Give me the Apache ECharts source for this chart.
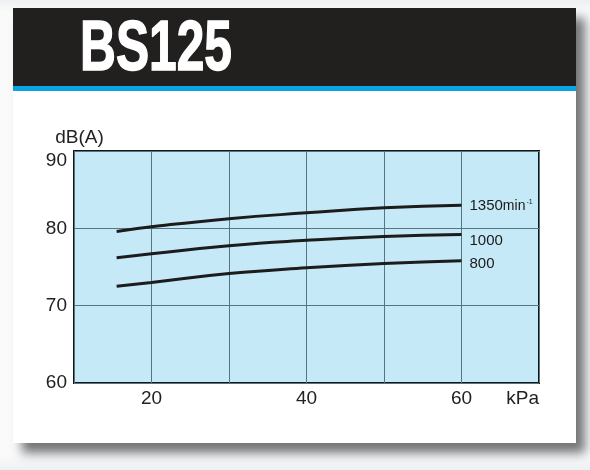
<!DOCTYPE html>
<html>
<head>
<meta charset="utf-8">
<script src="https://cdn.jsdelivr.net/npm/echarts@6/dist/echarts.min.js"></script>
<style>
  html, body { margin:0; padding:0; width:590px; height:470px; overflow:hidden; background:#f3f5f6; }
  #page { position:absolute; left:0; top:0; width:590px; height:470px; background:linear-gradient(#eef0f1 0, #fafafa 12px, #fafafa 455px, #eef1f3 470px); }
  #card { position:absolute; left:13px; top:8px; width:563px; height:435px; background:#fff; box-shadow:9px 10px 10px rgba(70,72,75,0.75); }
  #band { position:absolute; left:13px; top:8px; width:563px; height:78px; background:#221f1f; }
  #blue { position:absolute; left:13px; top:86px; width:563px; height:5px; background:#0aa3e3; }
  #chart { position:absolute; left:0; top:0; width:590px; height:470px; }
</style>
</head>
<body>
<div id="page"></div>
<div id="card"></div>
<div id="band"></div>
<div id="blue"></div>
<div id="chart"></div>
<script>
// Data
var pressure = [15.5, 20, 30, 40, 50, 60];          // kPa
var speedLabels = ['1350', '1000', '800'];          // min-1
var noise1350 = [79.6, 80.2, 81.25, 82.0, 82.65, 83.0];  // dB(A)
var noise1000 = [76.2, 76.7, 77.75, 78.45, 78.95, 79.2];
var noise800  = [72.5, 73.0, 74.15, 74.9, 75.45, 75.8];
var xTickLabels = [20, 40, 60];
var yTickLabels = [60, 70, 80, 90];

function pairs(ys) { return pressure.map(function (x, i) { return [x, ys[i]]; }); }

var chart = echarts.init(document.getElementById('chart'), null, { renderer: 'canvas' });
var font = '"Liberation Sans", Arial, sans-serif';
var lineStyle = { color: '#1c1c1c', width: 3 };

function mkSeries(name, ys, labelFmt, offsetY) {
  return {
    type: 'line', name: name, data: pairs(ys), smooth: true, showSymbol: false, symbol: 'none',
    lineStyle: lineStyle, silent: true,
    endLabel: {
      show: true, distance: 8, offset: [0, offsetY], color: '#1a1a1a', fontFamily: font, fontSize: 15,
      formatter: labelFmt,
      rich: {
        a: { fontSize: 15, fontFamily: font, color: '#1a1a1a' },
        b: { fontSize: 14, fontFamily: font, color: '#1a1a1a' },
        c: { fontSize: 7, fontFamily: font, color: '#1a1a1a', padding: [0, 0, 8, 1] }
      }
    }
  };
}

chart.setOption({
  animation: false,
  backgroundColor: 'transparent',
  graphic: [{
    type: 'text', x: 80, y: 51, scaleX: 0.71,
    style: { text: 'BS125', fill: '#ffffff', stroke: '#ffffff', lineWidth: 1.5, font: 'bold 70px "Liberation Sans", Arial, sans-serif', textVerticalAlign: 'middle' }
  }],
  grid: {
    left: 74, top: 151, width: 465, height: 232,
    show: true, backgroundColor: '#c6e9f8', borderColor: '#151515', borderWidth: 2
  },
  xAxis: {
    type: 'value', min: 10, max: 70, interval: 10,
    name: 'kPa', nameLocation: 'end', nameGap: 0,
    nameTextStyle: { align: 'right', verticalAlign: 'top', padding: [6, 0, 0, 0], fontSize: 19, color: '#222', fontFamily: font },
    axisLine: { show: false }, axisTick: { show: false },
    splitLine: { show: true, lineStyle: { color: '#55767e', width: 1 } },
    axisLabel: {
      margin: 6, fontSize: 19, color: '#222', fontFamily: font,
      formatter: function (v) { return xTickLabels.indexOf(v) >= 0 ? String(v) : ''; }
    }
  },
  yAxis: {
    type: 'value', min: 60, max: 90, interval: 10,
    name: 'dB(A)', nameLocation: 'end', nameGap: 4,
    nameTextStyle: { fontSize: 19, color: '#222', fontFamily: font, padding: [0, 0, 0, 11] },
    axisLine: { show: false }, axisTick: { show: false },
    splitLine: { show: true, lineStyle: { color: '#55767e', width: 1 } },
    axisLabel: {
      margin: 7, fontSize: 19, color: '#222', fontFamily: font,
      verticalAlignMaxLabel: 'top',
      formatter: function (v) { return yTickLabels.indexOf(v) >= 0 ? String(v) : ''; }
    }
  },
  series: [
    mkSeries(speedLabels[0], noise1350, '{a|' + speedLabels[0] + '}{b|min}{c|-1}', 1),
    mkSeries(speedLabels[1], noise1000, '{a|' + speedLabels[1] + '}', 6),
    mkSeries(speedLabels[2], noise800, '{a|' + speedLabels[2] + '}', 3)
  ]
});
</script>
</body>
</html>
